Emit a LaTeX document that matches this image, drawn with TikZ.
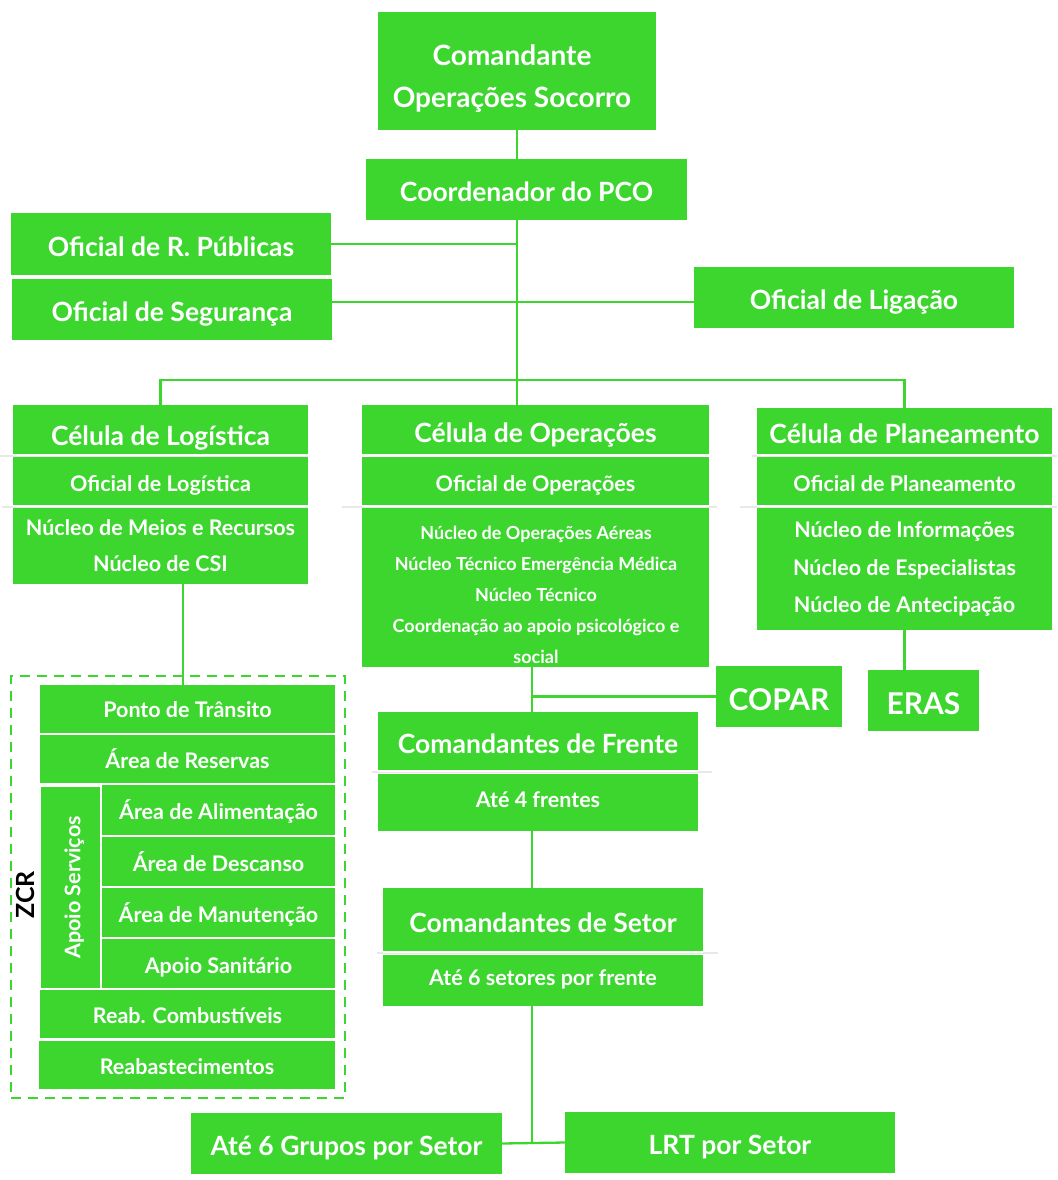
\documentclass[tikz,border=0pt]{standalone}
\usepackage{fontspec}
\setmainfont{Lato}
\usetikzlibrary{backgrounds}
\definecolor{leaf}{RGB}{61,214,47}
\definecolor{seam}{RGB}{232,232,232}
% green box given by its corners: [options]{name}{x1}{y1}{x2}{y2}{text}
\newcommand\gnode[7][]{%
  \node[gbox,#1,minimum width={(#5-#3)*1pt},minimum height={(#6-#4)*1pt}]
    (#2) at ({(#3+#5)/2},{(#4+#6)/2}) {#7};}
\begin{document}
\begin{tikzpicture}[x=1pt,y=-1pt,
  gbox/.style={fill=leaf,text=white,inner sep=0pt,outer sep=0pt,align=center},
  big/.style={font=\fontsize{26.5}{30}\selectfont\bfseries,text height=24.5pt,text depth=0pt},
  huge/.style={font=\fontsize{30}{34}\selectfont\bfseries,text height=27.5pt,text depth=0pt},
  mid/.style={font=\fontsize{21.5}{26}\selectfont\bfseries,text height=19.5pt,text depth=0pt},
  midlist/.style={font=\fontsize{21.5}{#1}\selectfont\bfseries},
  small/.style={font=\fontsize{18}{31}\selectfont\bfseries},
  txt/.style={text=white,inner sep=0pt,align=center},
  link/.style={draw=leaf,line width=2.3pt},
  seamline/.style={draw=seam,line width=2.2pt},
  cut/.style={draw=white,line width=2pt},
  zcrframe/.style={draw=leaf,line width=2.3pt,dash pattern=on 10pt off 7pt,inner sep=0pt}]
\useasboundingbox (0,0) rectangle (1057,1180);

% faint seams continuing the band separators
\draw[seamline] (0,456) -- (308,456);
\draw[seamline] (2,507) -- (308,507);
\draw[seamline] (342,507) -- (717,507);
\draw[seamline] (752,456) -- (1057,456);
\draw[seamline] (740,507) -- (1057,507);
\draw[seamline] (372,772) -- (712,772);
\draw[seamline] (377,953) -- (718,953);

% command chain
\gnode{cmd}{378}{12}{656}{130}{}
\node[txt,font=\fontsize{28}{42}\selectfont\bfseries] (cmdtext) at (512,79) {Comandante\\Operações Socorro};
\gnode[big]{pco}{366}{159}{687}{220}{Coordenador do PCO}
\gnode[big]{rp}{11}{213}{331}{275}{Oficial de R. Públicas}
\gnode[big]{seg}{12}{279}{332}{340}{Oficial de Segurança}
\gnode[big]{lig}{694}{267}{1014}{328}{Oficial de Ligação}

% logistics cell
\gnode[big,text height=31pt]{logt}{13}{405}{308}{455}{Célula de Logística}
\gnode[mid]{logo}{13}{457}{308}{506}{Oficial de Logística}
\gnode[midlist=36]{lognuc}{13}{508}{308}{584}{Núcleo de Meios e Recursos\\Núcleo de CSI}

% operations cell
\gnode[big]{opst}{362}{405}{709}{455}{Célula de Operações}
\gnode[mid]{opso}{362}{457}{709}{506}{Oficial de Operações}
\gnode{opsnuc}{362}{508}{709}{667}{}
\node[txt,small] (opsnuctext) at (536,595) {Núcleo de Operações Aéreas\\Núcleo Técnico Emergência Médica\\Núcleo Técnico\\Coordenação ao apoio psicológico e\\social};

% planning cell
\gnode[big]{plant}{757}{408}{1052}{455}{Célula de Planeamento}
\gnode[mid]{plano}{757}{457}{1052}{506}{Oficial de Planeamento}
\gnode[midlist=37.5]{plannuc}{757}{508}{1052}{630}{Núcleo de Informações\\Núcleo de Especialistas\\Núcleo de Antecipação}

% support units beside the operations chain
\gnode[huge]{copar}{716}{666}{842}{727}{COPAR}
\gnode[huge]{eras}{868}{670}{979}{731}{ERAS}

% fronts and sectors
\gnode[big]{frt}{378}{712}{698}{771}{Comandantes de Frente}
\gnode[mid,text height=10pt]{frs}{378}{774}{698}{831}{Até 4 frentes}
\gnode[big]{sett}{383}{888}{703}{952}{Comandantes de Setor}
\gnode[mid,text height=10pt]{sets}{383}{955}{703}{1006}{Até 6 setores por frente}
\gnode[big]{grp}{191}{1113}{502}{1174}{Até 6 Grupos por Setor}
\gnode[big]{lrt}{565}{1112}{895}{1173}{LRT por Setor}

% white separators inside the cells
\draw[cut] (logt.south west) -- (logt.south east);
\draw[cut] (logo.south west) -- (logo.south east);
\draw[cut] (opst.south west) -- (opst.south east);
\draw[cut] (opso.south west) -- (opso.south east);
\draw[cut] (plant.south west) -- (plant.south east);
\draw[cut] (plano.south west) -- (plano.south east);
\draw[cut] (frt.south west) -- (frt.south east);
\draw[cut] (sett.south west) -- (sett.south east);

% ZCR area
\node[zcrframe,minimum width=334pt,minimum height=422pt] (zcr) at (178,887) {};
\node[rotate=90,inner sep=0pt,font=\fontsize{25}{28}\selectfont\bfseries] (zcrname) at (25,895) {ZCR};
\gnode[mid,text height=16pt]{pt}{40}{685}{335}{733}{Ponto de Trânsito}
\gnode[mid]{res}{40}{735}{335}{783}{Área de Reservas}
\node[gbox,mid,rotate=90,minimum width=201pt,minimum height=59pt] (aps) at (70.5,887.5) {Apoio Serviços};
\gnode[mid]{ali}{102}{785}{335}{835}{Área de Alimentação}
\gnode[mid]{des}{102}{837}{335}{886}{Área de Descanso}
\gnode[mid]{man}{102}{888}{335}{937}{Área de Manutenção}
\gnode[mid]{san}{102}{939}{335}{988}{Apoio Sanitário}
\gnode[mid]{comb}{40}{990}{335}{1038}{Reab. Combustíveis}
\gnode[mid]{reab}{39}{1041}{335}{1089}{Reabastecimentos}

% connectors
\coordinate (sl) at (517,302);
\coordinate (bus) at (517,380);
\coordinate (zcrdrop) at (183,0);
\coordinate (opsdrop) at (532,0);
\begin{pgfonlayer}{background}
\draw[link] (cmd.south) -- (cmd.south |- opst.north);
\draw[link] (rp.east) -- (rp.east -| cmd.south);
\draw[link] (seg.east |- sl) -- (lig.west |- sl);
\draw[link] (logt.north) |- (bus) -| (plant.north);
\draw[link] (lognuc.south -| zcrdrop) -- (pt.north -| zcrdrop);
\draw[link] (opsnuc.south -| opsdrop) -- (frt.north -| opsdrop);
\draw[link] (opsdrop |- copar.west) -- (copar.west);
\draw[link] (plannuc.south) -- (plannuc.south |- eras.north);
\draw[link] (frs.south -| opsdrop) -- (sett.north -| opsdrop);
\draw[link] (sets.south -| opsdrop) -- (opsdrop |- grp.east);
\draw[link] (grp.east) -- (lrt.west);
\end{pgfonlayer}
\end{tikzpicture}
\end{document}
